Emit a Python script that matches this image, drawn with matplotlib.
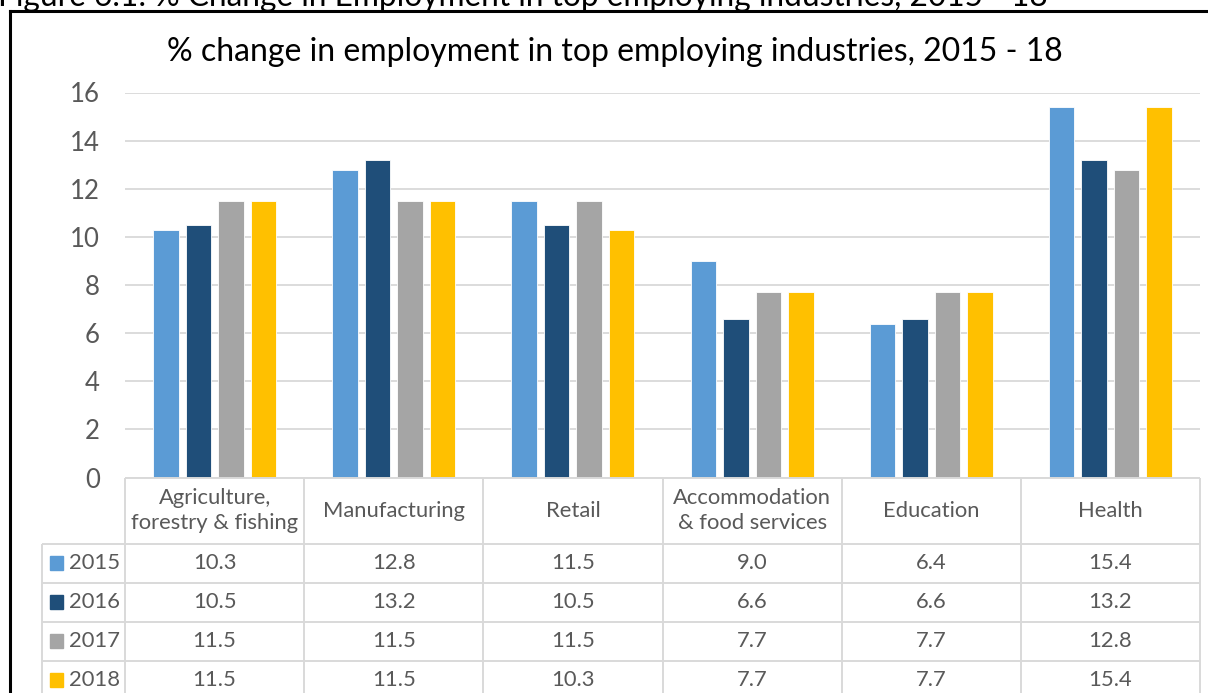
import numpy as np
import matplotlib.pyplot as plt
from matplotlib.patches import Rectangle

# ---------------------------------------------------------------
# data
# ---------------------------------------------------------------
industries = ["Agriculture,\nforestry & fishing", "Manufacturing", "Retail",
              "Accommodation\n& food services", "Education", "Health"]
years = ["2015", "2016", "2017", "2018"]
v2015 = [10.3, 12.8, 11.5, 9.0, 6.4, 15.4]
v2016 = [10.5, 13.2, 10.5, 6.6, 6.6, 13.2]
v2017 = [11.5, 11.5, 11.5, 7.7, 7.7, 12.8]
v2018 = [11.5, 11.5, 10.3, 7.7, 7.7, 15.4]
series = [v2015, v2016, v2017, v2018]
colors = ["#5B9BD5", "#1F4E79", "#A5A5A5", "#FFC000"]
yticks = [0, 2, 4, 6, 8, 10, 12, 14, 16]

W, H = 1208, 693
txt_grey = "#595959"
line_grey = "#D9D9D9"

fig = plt.figure(figsize=(W / 100, H / 100), dpi=100)

def box(left, top, right, bottom):
    # pixel box -> figure fraction rect
    return [left / W, 1 - bottom / H, (right - left) / W, (bottom - top) / H]

# ---------------------------------------------------------------
# bars
# ---------------------------------------------------------------
ax = fig.add_axes(box(125, 92.5, 1200, 477.5))
x = np.arange(len(industries))
step, width = 0.1815, 0.142
for i, (vals, c) in enumerate(zip(series, colors)):
    ax.bar(x + (i - 1.5) * step, vals, width=width, color=c,
           edgecolor="white", linewidth=0.6, zorder=3)

ax.set_xlim(-0.5, len(industries) - 0.5)
ax.set_ylim(0, 16)
ax.set_yticks(yticks)
ax.set_yticklabels([str(t) for t in yticks], fontsize=18.5, color=txt_grey,
                   family="Lato")
ax.tick_params(axis="y", length=0, pad=18)
ax.set_xticks([])
ax.grid(axis="y", color=line_grey, linewidth=1.3, zorder=0)
for s in ax.spines.values():
    s.set_visible(False)

# ---------------------------------------------------------------
# data table under the bars
# ---------------------------------------------------------------
hdr = 66 / 39           # header row height in data-row units
n_rows = len(years)
tax = fig.add_axes(box(125, 477.5, 1200, 477.5 + 66 + 39 * n_rows))
tax.set_xlim(-0.5, len(industries) - 0.5)
tax.set_ylim(hdr + n_rows, 0)
tax.axis("off")

lab_left = -0.5 - 83 / 179.17   # left edge of the row label column
lw = 1.4
kw = dict(color=line_grey, linewidth=lw, clip_on=False, solid_capstyle="butt")

# horizontal rules
tax.plot([-0.5, len(industries) - 0.5], [0, 0], **kw)
for r in range(n_rows + 1):
    tax.plot([lab_left, len(industries) - 0.5], [hdr + r, hdr + r], **kw)
# vertical rules
for c in range(len(industries) + 1):
    tax.plot([c - 0.5, c - 0.5], [0, hdr + n_rows], **kw)
tax.plot([lab_left, lab_left], [hdr, hdr + n_rows], **kw)

tfont = dict(family="Lato", fontsize=15.8, color=txt_grey)
for j, name in enumerate(industries):
    tax.text(j, hdr / 2, name, ha="center", va="center", linespacing=1.35,
             **tfont)

for r, (yr, vals, c) in enumerate(zip(years, series, colors)):
    yc = hdr + r + 0.5
    tax.add_patch(Rectangle((lab_left + 8 / 179.17, yc - 0.17), 13 / 179.17, 0.34,
                            color=c, clip_on=False))
    tax.text(lab_left + 27 / 179.17, yc, yr, ha="left", va="center", **tfont)
    for j, v in enumerate(vals):
        tax.text(j, yc, f"{v:.1f}", ha="center", va="center", **tfont)

# ---------------------------------------------------------------
# title, caption and frame
# ---------------------------------------------------------------
fig.text(615 / W, 1 - 52 / H,
         "% change in employment in top employing industries, 2015 - 18",
         ha="center", va="center", fontsize=23, family="Lato", color="black")
fig.text(-2 / W, 1 - 6 / H,
         "Figure 6.1: % Change in Employment in top employing industries, 2015 - 18",
         ha="left", va="baseline", fontsize=22.8, family="Lato", color="black")

fig.add_artist(plt.Line2D([10 / W, 1], [1 - 11 / H, 1 - 11 / H],
                          color="black", linewidth=2.2))
fig.add_artist(plt.Line2D([10 / W, 10 / W], [0, 1 - 11 / H],
                          color="black", linewidth=2.2))

fig.savefig("out.png", dpi=100)
